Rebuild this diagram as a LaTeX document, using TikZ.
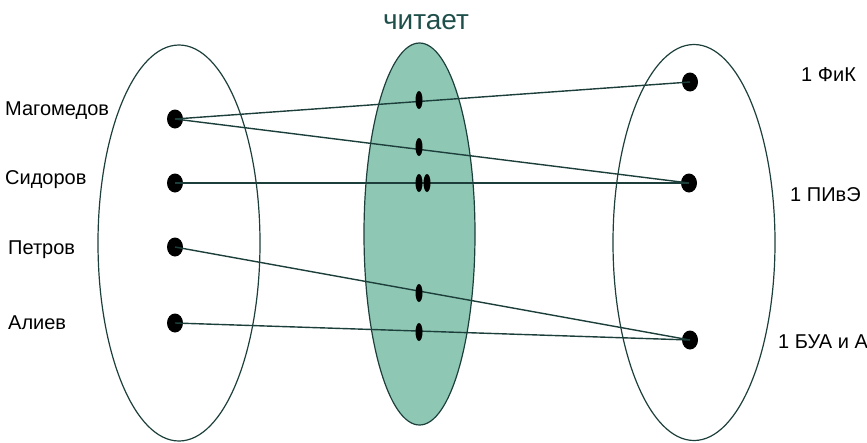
\documentclass[tikz,border=0pt]{standalone}
\usepackage{fontspec}
\setmainfont{Liberation Sans}
\usetikzlibrary{shapes.geometric}
\definecolor{edgecol}{HTML}{1D3F3B}
\definecolor{fillcol}{HTML}{8EC8B4}
\definecolor{titlecol}{HTML}{1F4F4A}
\tikzset{
  setoval/.style={ellipse, draw=edgecol, line width=1.2pt, inner sep=0pt},
  bigdot/.style={ellipse, fill=black, minimum width=16pt, minimum height=19pt, inner sep=0pt},
  smalldot/.style={ellipse, fill=black, minimum width=7pt, minimum height=18pt, inner sep=0pt},
  link/.style={draw=edgecol, line width=1.4pt},
  lbl/.style={font=\fontsize{20}{23}\selectfont, inner sep=0pt, text=black},
}
\begin{document}
\begin{tikzpicture}[x=1pt,y=-1pt]
\useasboundingbox (0,0) rectangle (867,442);
% sets
\node[setoval, fill=fillcol, minimum width=111pt, minimum height=382pt] (mid) at (419.5,234) {};
\node[setoval, minimum width=162pt, minimum height=396pt] (lset) at (179,243) {};
\node[setoval, minimum width=162pt, minimum height=396pt] (rset) at (694,242.5) {};
% title
\node[font=\fontsize{28}{32}\selectfont, text=titlecol, inner sep=0pt] (title) at (426,22) {читает};
% left dots
\node[bigdot] (ma) at (175,119) {};
\node[bigdot] (si) at (175,183) {};
\node[bigdot] (pe) at (175,247) {};
\node[bigdot] (al) at (175,323) {};
% right dots
\node[bigdot] (fk) at (690,82) {};
\node[bigdot] (pv) at (689,183) {};
\node[bigdot] (bu) at (690,340) {};
% connectors
\draw[link] (ma.center) -- (fk.center);
\draw[link] (ma.center) -- (pv.center);
\draw[link] (si.center) -- (pv.center);
\draw[link] (pe.center) -- (bu.center);
\draw[link] (al.center) -- (bu.center);
% middle dots
\node[smalldot] (r1) at (419,100) {};
\node[smalldot] (r2) at (419,147) {};
\node[smalldot] (r3) at (419,183) {};
\node[smalldot] (r4) at (427,183) {};
\node[smalldot] (r5) at (419,293) {};
\node[smalldot] (r6) at (419,332) {};
% left labels
\node[lbl, anchor=west] (tma) at (5,111) {Магомедов};
\node[lbl, anchor=west] (tsi) at (5,180) {Сидоров};
\node[lbl, anchor=west] (tpe) at (8,250) {Петров};
\node[lbl, anchor=west] (tal) at (8,323) {Алиев};
% right labels
\node[lbl, anchor=west] (tfk) at (801,75) {1 ФиК};
\node[lbl, anchor=west] (tpv) at (790,195) {1 ПИвЭ};
\node[lbl, anchor=west] (tbu) at (778,342) {1 БУА и А};
\end{tikzpicture}
\end{document}
